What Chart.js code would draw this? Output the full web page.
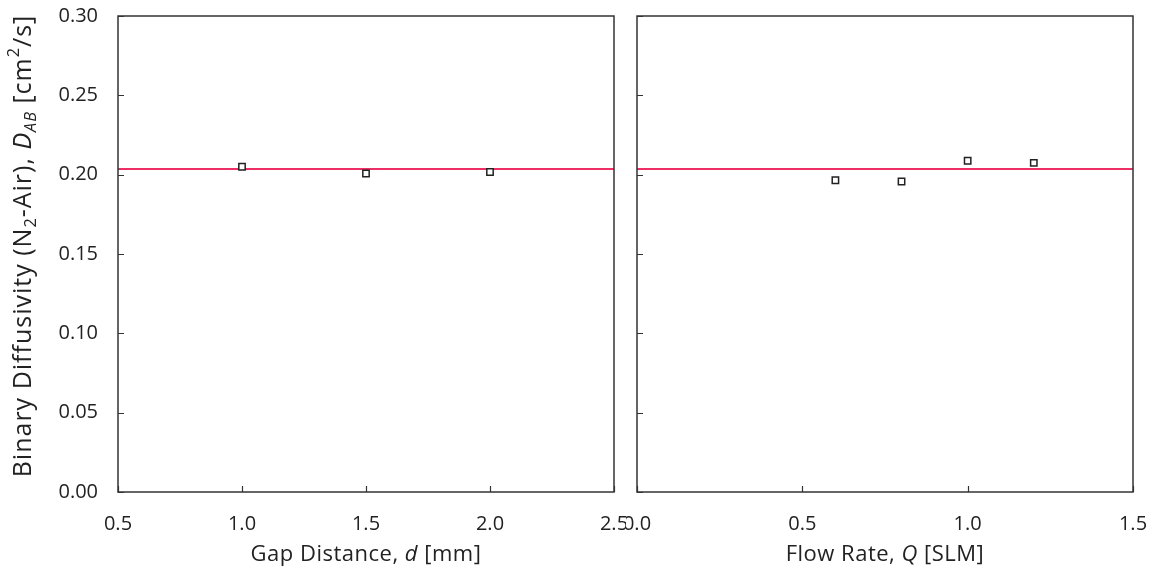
<!DOCTYPE html>
<html>
<head>
<meta charset="utf-8">
<script src="https://cdn.jsdelivr.net/npm/chart.js@4.4.1/dist/chart.umd.min.js"></script>
<style>
  body { margin: 0; background: #fff; }
  .wrap { position: absolute; top: 0; height: 580px; }
  #leftWrap { left: 0; width: 626px; }
  #rightWrap { left: 626px; width: 528px; }
</style>
</head>
<body>
<div class="wrap" id="leftWrap"><canvas id="gapChart"></canvas></div>
<div class="wrap" id="rightWrap"><canvas id="flowChart"></canvas></div>
<script>
// --- Data ---
const gapDistance = [1.0, 1.5, 2.0];            // d [mm]
const gapDiffusivity = [0.205, 0.2007, 0.2017];  // D_AB [cm^2/s]

const flowRate = [0.6, 0.8, 1.0, 1.2];           // Q [SLM]
const flowDiffusivity = [0.1965, 0.1957, 0.2088, 0.2074];

const referenceValue = [0.2035];                 // literature D_AB

const yTicks = [0, 0.05, 0.10, 0.15, 0.20, 0.25, 0.30];
const gapRange = [0.5, 2.5];
const flowRange = [0.0, 1.5];

// --- Styling ---
const FONT = 'Open Sans';
const TEXT = '#222';
const FRAME = '#333';
const REF_COLOR = '#ee2f66';

// draws the frame box and inward ticks
const framePlugin = {
    id: 'frame',
    afterDatasetsDraw(chart) {
        const { ctx, chartArea: a, scales } = chart;
        ctx.save();
        ctx.strokeStyle = FRAME;
        ctx.lineWidth = 1.5;
        ctx.strokeRect(a.left, a.top, a.right - a.left, a.bottom - a.top);
        ctx.lineWidth = 1.2;
        ctx.beginPath();
        scales.y.ticks.forEach(t => {
            const py = Math.round(scales.y.getPixelForValue(t.value)) + 0.5;
            ctx.moveTo(a.left, py);
            ctx.lineTo(a.left + 6, py);
        });
        scales.x.ticks.forEach(t => {
            const px = Math.round(scales.x.getPixelForValue(t.value)) + 0.5;
            ctx.moveTo(px, a.bottom);
            ctx.lineTo(px, a.bottom - 6);
        });
        ctx.stroke();
        ctx.restore();
    }
};

// rich text (italic, sub/superscript) for axis titles
function drawRich(ctx, parts, size, spacing) {
    ctx.letterSpacing = spacing + 'px';
    let total = 0;
    parts.forEach(p => {
        const s = p.sub || p.sup ? size * 0.65 : size;
        ctx.font = (p.it ? 'italic ' : '') + s + 'px "' + FONT + '"';
        p.w = ctx.measureText(p.t).width;
        p.s = s;
        total += p.w;
    });
    let x = -total / 2;
    parts.forEach(p => {
        ctx.font = (p.it ? 'italic ' : '') + p.s + 'px "' + FONT + '"';
        let dy = 0;
        if (p.sub) dy = size * 0.28;
        if (p.sup) dy = -size * 0.38;
        ctx.fillText(p.t, x, dy);
        x += p.w;
    });
}

function titlePlugin(xParts, yParts) {
    return {
        id: 'richTitles',
        afterDraw(chart) {
            const { ctx, chartArea: a } = chart;
            ctx.save();
            ctx.fillStyle = TEXT;
            ctx.textBaseline = 'middle';
            ctx.textAlign = 'left';
            ctx.save();
            ctx.translate((a.left + a.right) / 2, 555);
            drawRich(ctx, xParts, 22, 0.5);
            ctx.restore();
            if (yParts) {
                ctx.save();
                ctx.translate(24, (a.top + a.bottom) / 2 - 8);
                ctx.rotate(-Math.PI / 2);
                drawRich(ctx, yParts, 25, 1);
                ctx.restore();
            }
            ctx.restore();
        }
    };
}

function makeOptions(range, yWidth, showY, padRight) {
    return {
        responsive: true,
        maintainAspectRatio: false,
        animation: false,
        layout: { padding: { top: 16, right: padRight, left: 0, bottom: 0 } },
        plugins: { legend: { display: false }, tooltip: { enabled: false } },
        scales: {
            x: {
                type: 'linear', min: range[0], max: range[1],
                grid: { display: false, drawTicks: false },
                border: { display: false },
                ticks: {
                    stepSize: 0.5, padding: 20, color: TEXT,
                    font: { family: FONT, size: 20 },
                    callback: v => v.toFixed(1)
                },
                afterFit: s => {
                    s.height = 88;
                    s.paddingLeft = 0;
                    s.paddingRight = 0;
                }
            },
            y: {
                type: 'linear', min: 0, max: 0.3,
                grid: { display: false, drawTicks: false },
                border: { display: false },
                afterBuildTicks: s => { s.ticks = yTicks.map(v => ({ value: v })); },
                ticks: {
                    display: showY, padding: 20, color: TEXT,
                    font: { family: FONT, size: 20 },
                    callback: v => v.toFixed(2)
                },
                afterFit: s => {
                    s.width = yWidth;
                    s.paddingTop = 0;
                    s.paddingBottom = 0;
                }
            }
        }
    };
}

function makeData(xs, ys, range) {
    return {
        datasets: [{
            type: 'line',
            data: range.map(x => ({ x: x, y: referenceValue[0] })),
            borderColor: REF_COLOR,
            borderWidth: 2,
            pointRadius: 0,
            order: 2
        }, {
            type: 'scatter',
            data: xs.map((x, i) => ({ x: x, y: ys[i] })),
            pointStyle: 'rect',
            pointRadius: 4.5,
            backgroundColor: '#fff',
            borderColor: '#222',
            borderWidth: 1.5,
            order: 1
        }]
    };
}

new Chart(document.getElementById('gapChart'), {
    type: 'scatter',
    data: makeData(gapDistance, gapDiffusivity, gapRange),
    options: makeOptions(gapRange, 118, true, 12),
    plugins: [framePlugin, titlePlugin(
        [{ t: 'Gap Distance, ' }, { t: 'd', it: true }, { t: ' [mm]' }],
        [{ t: 'Binary Diffusivity (N' }, { t: '2', sub: true }, { t: '-Air), ' },
         { t: 'D', it: true }, { t: 'AB', it: true, sub: true },
         { t: ' [cm' }, { t: '2', sup: true }, { t: '/s]' }]
    )]
});

new Chart(document.getElementById('flowChart'), {
    type: 'scatter',
    data: makeData(flowRate, flowDiffusivity, flowRange),
    options: makeOptions(flowRange, 11, false, 21),
    plugins: [framePlugin, titlePlugin(
        [{ t: 'Flow Rate, ' }, { t: 'Q', it: true }, { t: ' [SLM]' }],
        null
    )]
});
</script>
</body>
</html>
